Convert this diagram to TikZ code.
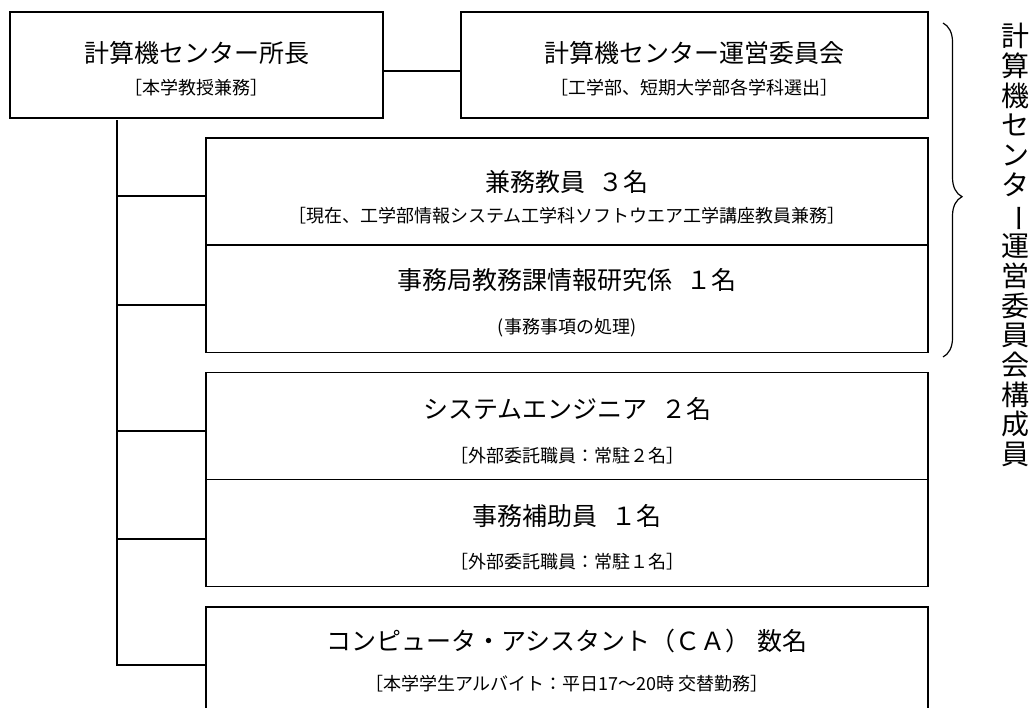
\documentclass[tikz,border=0pt]{standalone}
\usepackage{fontspec}
\setmainfont{Noto Sans CJK JP}
\usetikzlibrary{decorations.pathreplacing,calc}
\begin{document}
\begin{tikzpicture}[x=1pt,y=-1pt,
  box/.style={draw,line width=1.3pt,inner sep=0pt,outer sep=0pt},
  topbox/.style={box,minimum height=106pt},
  lowbox/.style={box,minimum width=722pt,minimum height=107pt},
  ttl/.style={inner sep=0pt,font=\fontsize{25}{29}\selectfont},
  sub/.style={inner sep=0pt,font=\fontsize{18}{21}\selectfont},
  conn/.style={line width=1.7pt},
  brc/.style={decorate,decoration={brace,amplitude=19pt,aspect=0.52},line width=1.2pt},
  vtext/.style={inner sep=0pt,align=center,font=\fontsize{28}{29.7}\selectfont}]
\useasboundingbox (0,0) rectangle (1032,707);

% top boxes
\node[topbox,minimum width=373pt] (A) at (196.5,65) {};
\node[topbox,minimum width=467pt] (B) at (694.5,65) {};
\node[ttl] (At) at (196.5,53) {計算機センター所長};
\node[sub] (As) at (196.5,88) {［本学教授兼務］};
\node[ttl] (Bt) at (694.5,53) {計算機センター運営委員会};
\node[sub] (Bs) at (694.5,88) {［工学部、短期大学部各学科選出］};

% lower boxes
\node[lowbox] (b1) at (567,191.5) {};
\node[lowbox] (b2) at (567,299) {};
\node[lowbox] (b3) at (567,426) {};
\node[lowbox] (b4) at (567,533) {};
\node[lowbox] (b5) at (567,660.5) {};

\node[ttl] (b1t) at (567,182) {兼務教員\hspace{.55em}３名};
\node[sub] (b1s) at (567,216) {［現在、工学部情報システム工学科ソフトウエア工学講座教員兼務］};
\node[ttl] (b2t) at (567,280) {事務局教務課情報研究係\hspace{.55em}１名};
\node[sub] (b2s) at (567,328) {(事務事項の処理)};
\node[ttl] (b3t) at (567,409) {システムエンジニア\hspace{.55em}２名};
\node[sub] (b3s) at (567,456) {［外部委託職員：常駐２名］};
\node[ttl] (b4t) at (567,516) {事務補助員\hspace{.55em}１名};
\node[sub] (b4s) at (567,562) {［外部委託職員：常駐１名］};
\node[ttl] (b5t) at (567,641) {コンピュータ・アシスタント（ＣＡ）\hspace{.25em}数名};
\node[sub] (b5s) at (567,684) {［本学学生アルバイト：平日17〜20時 交替勤務］};

% connectors
\draw[conn] ([yshift=-6pt]A.east) -- ([yshift=-6pt]B.west);
\coordinate (t0) at (117,120);
\coordinate (k1) at ([yshift=-4.5pt]b1.west);
\coordinate (k2) at ([yshift=-6pt]b2.west);
\coordinate (k3) at ([yshift=-5pt]b3.west);
\coordinate (k4) at ([yshift=-6pt]b4.west);
\coordinate (k5) at ([yshift=-4.5pt]b5.west);
\draw[conn] (t0) -- (t0 |- k5) -- (k5);
\foreach \i in {1,2,3,4} \draw[conn] (k\i -| t0) -- (k\i);

% brace and vertical label
\coordinate (bt) at (943,23);
\coordinate (bb) at (943,357);
\draw[brc] (bt) -- (bb);
\node[vtext] (vl) at (1015,245) {計\\算\\機\\セ\\ン\\タ\\\rotatebox[origin=c]{-90}{ー}\\運\\営\\委\\員\\会\\構\\成\\員};
\end{tikzpicture}
\end{document}
